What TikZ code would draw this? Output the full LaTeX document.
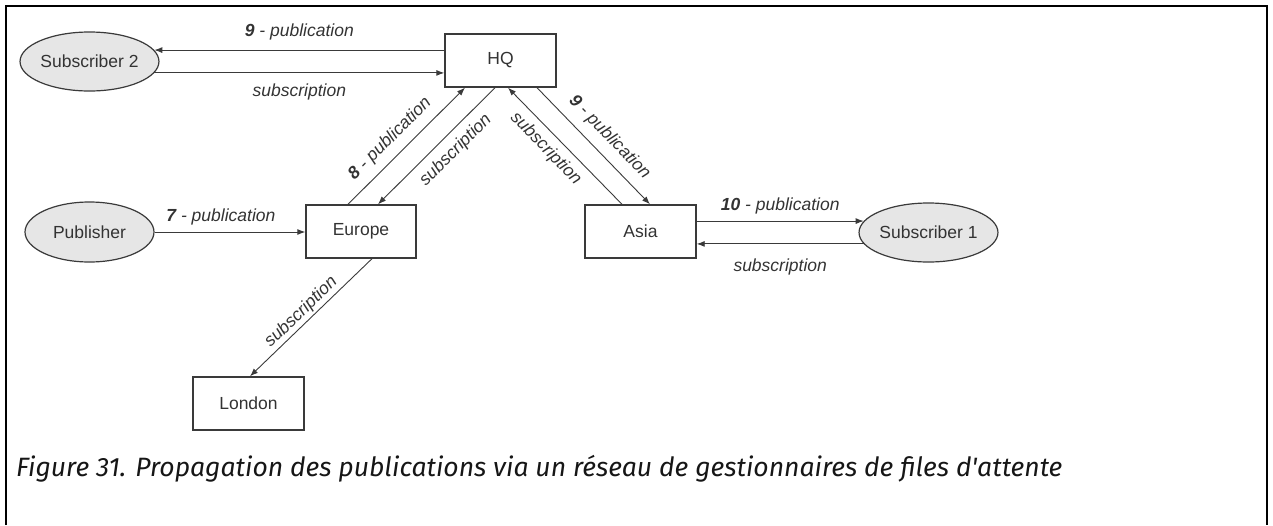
\documentclass[tikz,border=0pt]{standalone}
\usepackage{fontspec}
\setmainfont{Liberation Sans}
\newfontfamily\capfont{Fira Sans}
\usepackage{graphicx}
\usetikzlibrary{shapes.geometric,arrows.meta}
\definecolor{ink}{HTML}{333333}
\definecolor{linec}{HTML}{3A3A3A}
\definecolor{ellfill}{HTML}{E6E6E6}
\definecolor{capink}{HTML}{161616}
\begin{document}
\begin{tikzpicture}[x=1pt,y=-1pt,
  box/.style={draw=linec, line width=1.4pt, rectangle, minimum width=111pt, minimum height=53pt, inner sep=0pt, font=\fontsize{17.5}{20}\selectfont, text=ink},
  oval/.style={draw=linec, line width=1.2pt, ellipse, fill=ellfill, minimum width=129pt, minimum height=59pt, inner sep=0pt, font=\fontsize{17.5}{20}\selectfont, text=ink},
  arr/.style={draw=linec, line width=0.9pt, -{Latex[length=8pt,width=6pt]}},
  lbl/.style={font=\fontsize{17.5}{20}\selectfont\itshape, text=ink, inner sep=2pt},
]
\useasboundingbox (0,0) rectangle (1273,525);
\draw[line width=2pt] (6,525) -- (6,6) -- (1267,6) -- (1267,525);

\node[oval] (sub2) at (89.5,61.5) {Subscriber 2};
\node[box] (hq) at (500.5,60.5) {HQ};
\node[oval, minimum height=60pt] (pub) at (89.5,232) {Publisher};
\node[box, minimum width=110pt] (eur) at (361,231.5) {Europe};
\node[box] (asia) at (640.5,231.5) {Asia};
\node[oval] (sub1) at (928.5,232.5) {Subscriber 1};
\node[box] (lon) at (248.5,403.5) {London};

\draw[arr] (sub2.10 -| hq.west) -- node[lbl, above=7pt]{\textbf{9} - publication} (sub2.10);
\draw[arr] (sub2.-10) -- node[lbl, below=8.5pt]{subscription} (sub2.-10 -| hq.west);
\draw[arr] (pub.east) -- node[lbl, above=4pt, pos=0.44]{\textbf{7} - publication} (pub.east -| eur.west);

\draw[arr] ([xshift=-13pt]eur.north) -- node[lbl, sloped, above=6pt, pos=0.46]{\textbf{8} - publication} ([xshift=-35.5pt]hq.south);
\draw[arr] ([xshift=-5.5pt]hq.south) -- node[lbl, sloped, below=6pt, pos=0.435]{subscription} ([xshift=17pt]eur.north);
\draw[arr] ([xshift=-18.5pt]asia.north) -- node[lbl, sloped, below=5pt, pos=0.57]{subscription} ([xshift=7.5pt]hq.south);
\draw[arr] ([xshift=36.5pt]hq.south) -- node[lbl, sloped, above=7pt, pos=0.53]{\textbf{9} - publication} ([xshift=9.5pt]asia.north);

\draw[arr] (sub1.170 -| asia.east) -- node[lbl, above=4pt]{\textbf{10} - publication} (sub1.170);
\draw[arr] (sub1.190) -- node[lbl, below=12pt]{subscription} (sub1.190 -| asia.east);

\draw[arr] ([xshift=11pt]eur.south) -- node[lbl, sloped, above=0pt, pos=0.52]{subscription} ([xshift=1.5pt]lon.north);

\node[anchor=base west, inner sep=0pt, text=capink] (cap) at (16,476) {\resizebox{1046pt}{!}{\capfont\itshape\fontsize{19.5}{22}\selectfont Figure 31. Propagation des publications via un réseau de gestionnaires de files d\textquotesingle attente}};
\end{tikzpicture}
\end{document}
